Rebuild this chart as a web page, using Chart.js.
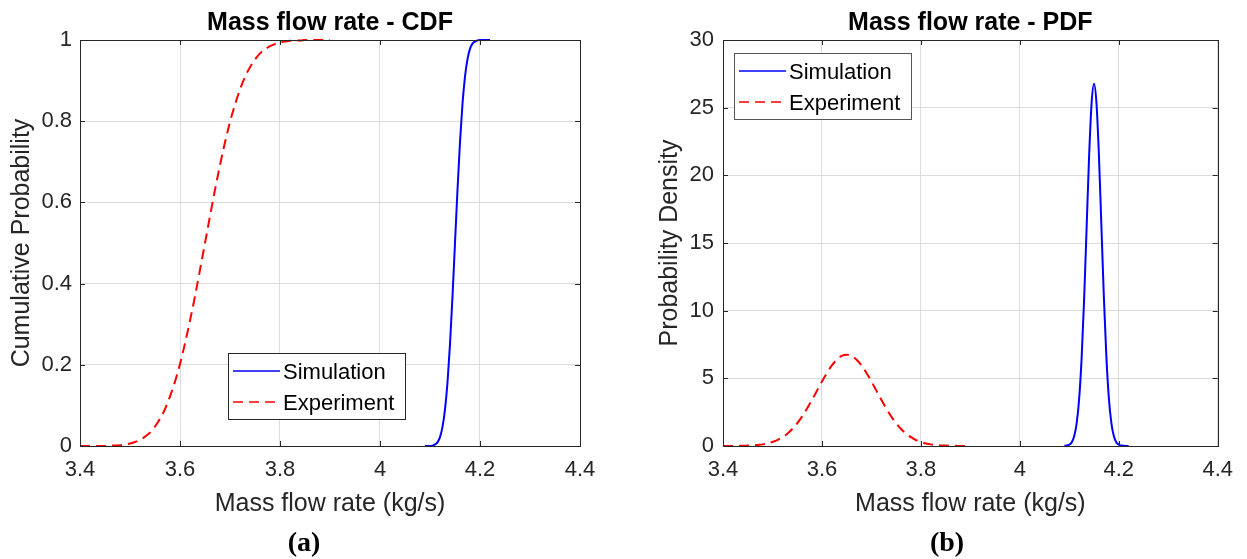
<!DOCTYPE html>
<html>
<head>
<meta charset="utf-8">
<title>Mass flow rate - CDF / PDF</title>
<style>
  html, body { margin: 0; padding: 0; background: #fff; overflow: hidden; }
  #cdfChart { position: absolute; left: 0; top: 0; }
  #pdfChart { position: absolute; left: 650px; top: 0; }
</style>
</head>
<body>
<canvas id="cdfChart" width="608" height="559"></canvas>
<canvas id="pdfChart" width="594" height="559"></canvas>
<script src="https://cdn.jsdelivr.net/npm/chart.js@4/dist/chart.umd.min.js"></script>
<script>
// measured mass flow rate (kg/s)
var expX = [3.40, 3.41, 3.42, 3.43, 3.44, 3.45, 3.46, 3.47, 3.48, 3.49,
            3.50, 3.51, 3.52, 3.53, 3.54, 3.55, 3.56, 3.57, 3.58, 3.59,
            3.60, 3.61, 3.62, 3.63, 3.64, 3.65, 3.66, 3.67, 3.68, 3.69,
            3.70, 3.71, 3.72, 3.73, 3.74, 3.75, 3.76, 3.77, 3.78, 3.79,
            3.80, 3.81, 3.82, 3.83, 3.84, 3.85, 3.86, 3.87, 3.88, 3.89, 3.90];
var expCdf = [0.000, 0.000, 0.000, 0.000, 0.000, 0.000, 0.001, 0.001, 0.002, 0.004,
              0.006, 0.010, 0.015, 0.023, 0.033, 0.048, 0.067, 0.091, 0.122, 0.159,
              0.202, 0.253, 0.309, 0.369, 0.434, 0.500, 0.566, 0.631, 0.692, 0.748,
              0.798, 0.841, 0.878, 0.909, 0.933, 0.952, 0.967, 0.977, 0.985, 0.990,
              0.994, 0.996, 0.998, 0.999, 0.999, 1.000, 1.000, 1.000, 1.000, 1.000, 1.000];
var expPdf = [0.00, 0.00, 0.00, 0.01, 0.02, 0.03, 0.04, 0.08, 0.12, 0.19,
              0.30, 0.44, 0.65, 0.91, 1.26, 1.68, 2.19, 2.77, 3.42, 4.09,
              4.77, 5.40, 5.96, 6.38, 6.66, 6.75, 6.66, 6.38, 5.96, 5.40,
              4.77, 4.09, 3.42, 2.77, 2.19, 1.68, 1.26, 0.91, 0.65, 0.44,
              0.30, 0.19, 0.12, 0.08, 0.04, 0.03, 0.02, 0.01, 0.00, 0.00, 0.00];

// simulated mass flow rate (kg/s)
var simX = [4.090, 4.095, 4.100, 4.105, 4.110, 4.115, 4.120, 4.125, 4.130,
            4.135, 4.140, 4.145, 4.150, 4.155, 4.160, 4.165, 4.170, 4.175,
            4.180, 4.185, 4.190, 4.195, 4.200, 4.205, 4.210, 4.215, 4.220];
var simCdf = [0.000, 0.000, 0.000, 0.001, 0.004, 0.009, 0.022, 0.047, 0.090,
              0.157, 0.251, 0.369, 0.500, 0.631, 0.749, 0.843, 0.910, 0.953,
              0.978, 0.991, 0.996, 0.999, 1.000, 1.000, 1.000, 1.000, 1.000];
var simPdf = [0.01, 0.03, 0.10, 0.28, 0.73, 1.70, 3.53, 6.55, 10.87,
              16.13, 21.37, 25.30, 26.77, 25.30, 21.37, 16.13, 10.87, 6.55,
              3.53, 1.70, 0.73, 0.28, 0.10, 0.03, 0.01, 0.00, 0.00];

var xTicks = [3.4, 3.6, 3.8, 4.0, 4.2, 4.4];

var FONT = '"Liberation Sans", Arial, Helvetica, sans-serif';
var SERIF = '"Liberation Serif", "Times New Roman", serif';
var INK = '#262626';

function pts(xs, ys) {
    return xs.map(function (x, i) { return { x: x, y: ys[i] }; });
}

// plain number labels: 1 not 1.0, 4 not 4.0
function plain(v) {
    return String(Math.round(v * 100) / 100);
}

// full frame, inward ticks on every side and a boxed legend inside the axes
var axesBox = {
    id: 'axesBox',
    afterDraw: function (chart, args, opts) {
        var a = chart.chartArea, ctx = chart.ctx;
        var sx = chart.scales.x, sy = chart.scales.y;
        ctx.save();
        ctx.strokeStyle = INK;
        ctx.lineWidth = 1;
        ctx.setLineDash([]);
        ctx.beginPath();
        sx.ticks.forEach(function (t) {
            var px = Math.round(sx.getPixelForValue(t.value)) + 0.5;
            ctx.moveTo(px, a.bottom); ctx.lineTo(px, a.bottom - 5);
            ctx.moveTo(px, a.top); ctx.lineTo(px, a.top + 5);
        });
        sy.ticks.forEach(function (t) {
            var py = Math.round(sy.getPixelForValue(t.value)) + 0.5;
            ctx.moveTo(a.left, py); ctx.lineTo(a.left + 5, py);
            ctx.moveTo(a.right, py); ctx.lineTo(a.right - 5, py);
        });
        ctx.stroke();
        ctx.strokeRect(Math.round(a.left) + 0.5, Math.round(a.top) + 0.5,
                       Math.round(a.width), Math.round(a.height));

        // legend
        var bx = Math.round(a.left + opts.legendX), by = Math.round(a.top + opts.legendY);
        ctx.fillStyle = '#fff';
        ctx.fillRect(bx, by, 177, 66);
        ctx.strokeStyle = opts.edge;
        ctx.strokeRect(bx + 0.5, by + 0.5, 177, 66);
        ctx.font = '22px ' + FONT;
        ctx.textBaseline = 'middle';
        chart.data.datasets.forEach(function (ds, i) {
            var y = by + 18 + i * 31;
            ctx.strokeStyle = ds.borderColor;
            ctx.lineWidth = 1.5;
            ctx.setLineDash(ds.borderDash || []);
            ctx.beginPath();
            ctx.moveTo(bx + 5, y); ctx.lineTo(bx + 52, y);
            ctx.stroke();
            ctx.setLineDash([]);
            ctx.fillStyle = '#000';
            ctx.fillText(ds.label, bx + 55, y + 2);
        });
        ctx.restore();
    }
};

function makeChart(id, cfg) {
    return new Chart(document.getElementById(id), {
        type: 'scatter',
        data: {
            datasets: [{
                label: 'Simulation',
                data: cfg.sim,
                xAxisID: 'x',
                yAxisID: 'y',
                showLine: true,
                borderColor: '#0000ff',
                borderWidth: 2,
                cubicInterpolationMode: 'monotone',
                pointRadius: 0,
                clip: false
            }, {
                label: 'Experiment',
                data: cfg.exp,
                xAxisID: 'x',
                yAxisID: 'y',
                showLine: true,
                borderColor: '#ff0000',
                borderWidth: 2,
                borderDash: [10, 6],
                cubicInterpolationMode: 'monotone',
                pointRadius: 0,
                clip: false
            }]
        },
        options: {
            responsive: false,
            animation: false,
            events: [],
            layout: { padding: 0 },
            plugins: {
                legend: { display: false },
                tooltip: { enabled: false },
                title: {
                    display: true,
                    text: cfg.title,
                    fullSize: false,
                    color: '#000',
                    font: { family: FONT, size: 25, weight: 'bold', lineHeight: 1.2 },
                    padding: { top: 8, bottom: 2 }
                },
                subtitle: {
                    display: true,
                    position: 'bottom',
                    text: cfg.tag,
                    color: '#000',
                    font: { family: SERIF, size: 28, weight: 'bold', lineHeight: 1 },
                    padding: { top: 4, bottom: 1 }
                },
                axesBox: { legendX: cfg.legendX, legendY: cfg.legendY, edge: cfg.edge }
            },
            scales: {
                x: {
                    type: 'linear',
                    min: 3.4,
                    max: 4.4,
                    afterBuildTicks: function (s) {
                        s.ticks = xTicks.map(function (v) { return { value: v }; });
                    },
                    ticks: { padding: 11, color: INK, maxRotation: 0, autoSkip: false,
                             font: { family: FONT, size: 22 }, callback: plain },
                    grid: { color: '#dcdcdc', drawTicks: false },
                    border: { display: false },
                    title: { display: true, text: 'Mass flow rate (kg/s)', color: INK,
                             font: { family: FONT, size: 25 }, padding: { top: 0, bottom: 6.5 } },
                    afterFit: function (s) { s.height = 80; }
                },
                y: {
                    min: 0,
                    max: cfg.yMax,
                    ticks: { stepSize: cfg.yStep, padding: cfg.yPad, color: INK,
                             font: { family: FONT, size: 22 }, callback: plain },
                    grid: { color: '#dcdcdc', drawTicks: false },
                    border: { display: false },
                    title: { display: true, text: cfg.yTitle, color: INK,
                             font: { family: FONT, size: 25 }, padding: { top: cfg.yTitlePad, bottom: 0 } },
                    afterFit: function (s) { s.width = cfg.yWidth; }
                },
                // empty strip on the right, keeps the panel label centred on the canvas
                side: {
                    type: 'linear',
                    position: 'right',
                    min: 0,
                    max: 1,
                    ticks: { display: false },
                    grid: { display: false },
                    border: { display: false },
                    afterFit: function (s) { s.width = cfg.sideWidth; }
                }
            }
        },
        plugins: [axesBox]
    });
}

makeChart('cdfChart', {
    title: 'Mass flow rate - CDF',
    tag: '(a)',
    sim: pts(simX, simCdf),
    exp: pts(expX, expCdf),
    yMax: 1,
    yStep: 0.2,
    yTitle: 'Cumulative Probability',
    yTitlePad: 7.5,
    yPad: 8,
    yWidth: 80,
    sideWidth: 28,
    legendX: 148,
    legendY: 313,
    edge: INK
});

makeChart('pdfChart', {
    title: 'Mass flow rate - PDF',
    tag: '(b)',
    sim: pts(simX, simPdf),
    exp: pts(expX, expPdf),
    yMax: 30,
    yStep: 5,
    yTitle: 'Probability Density',
    yTitlePad: 5,
    yPad: 9,
    yWidth: 73,
    sideWidth: 21,
    legendX: 11,
    legendY: 13,
    edge: '#555'
});
</script>
</body>
</html>
